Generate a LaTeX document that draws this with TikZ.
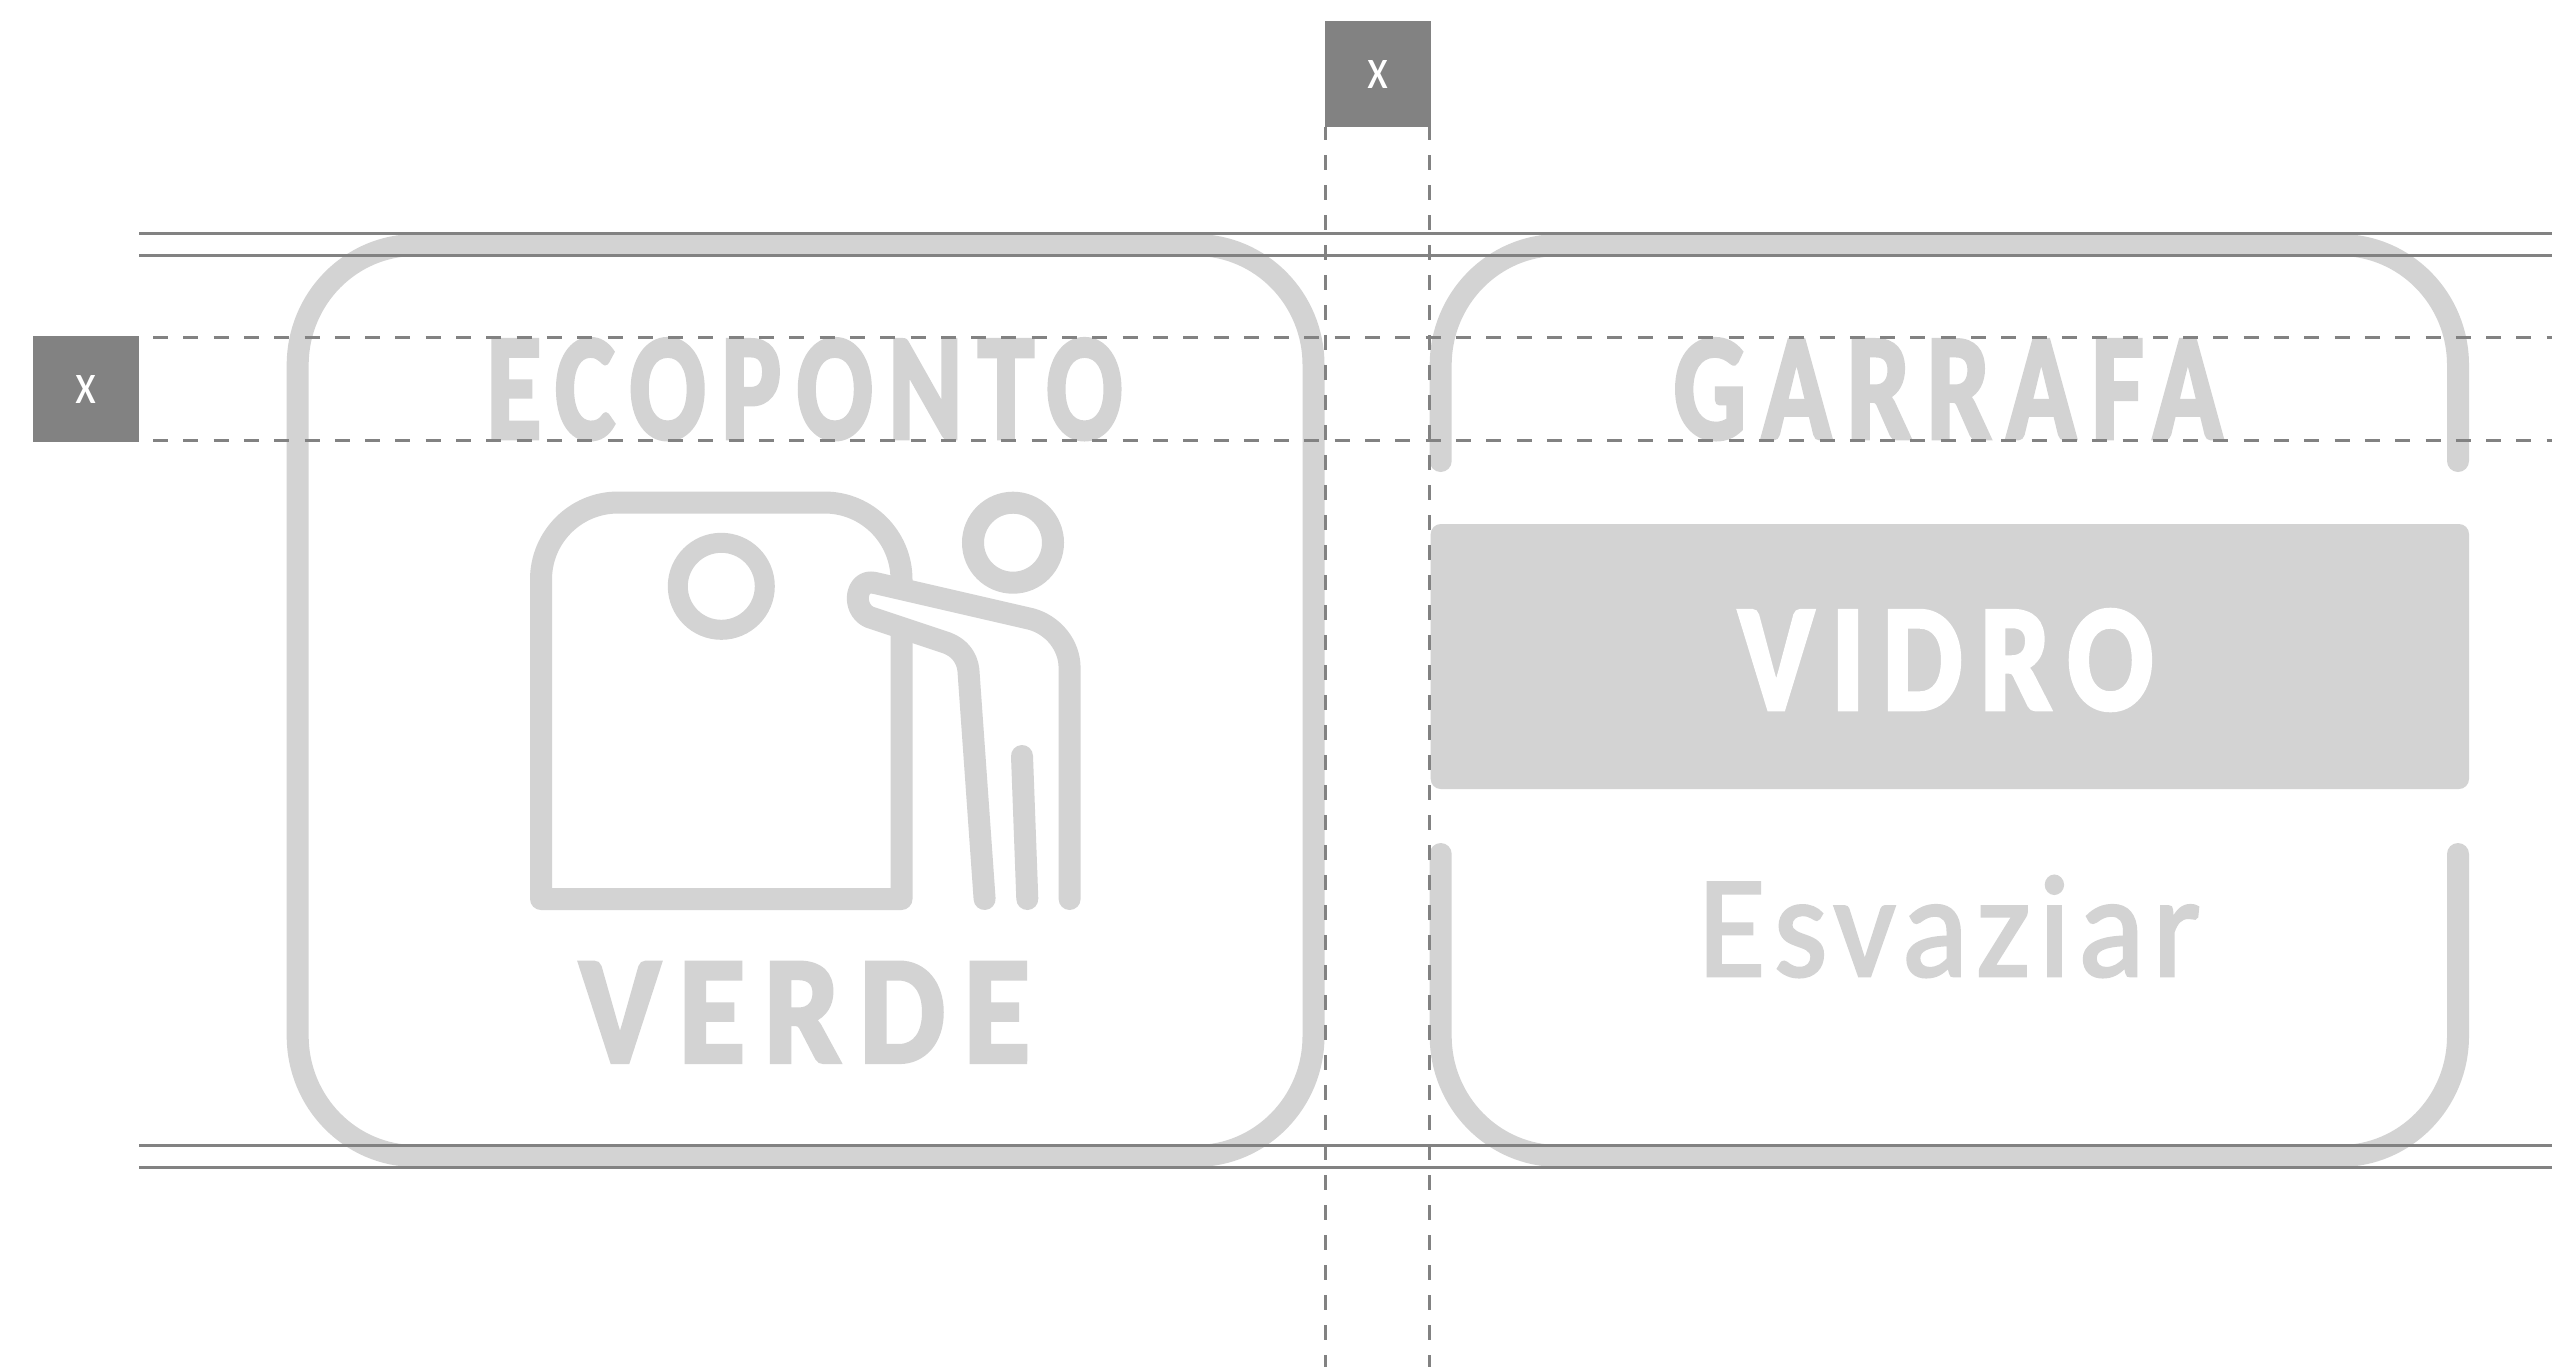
\documentclass[tikz,border=0pt]{standalone}
\usepackage{fontspec}
\usepackage{tikz}
\usetikzlibrary{positioning}
\setmainfont{Carlito}
\definecolor{signgray}{HTML}{D3D3D3}
\definecolor{guidegray}{HTML}{828282}
\newcommand{\fittext}[3]{\resizebox{#1pt}{#2pt}{#3}}
\tikzset{
    signline/.style={draw=signgray, line width=22pt, line join=round},
    iconring/.style={draw=signgray, line width=20pt},
    guideline/.style={draw=guidegray, line width=3pt},
    guidedash/.style={guideline, dash pattern=on 15pt off 15.3pt},
    measurebox/.style={fill=guidegray, minimum size=106pt, inner sep=0pt, text=white},
    signtext/.style={text=signgray, inner sep=0pt, font=\bfseries\addfontfeature{LetterSpace=14,FakeBold=3}}
}
\begin{document}
\begin{tikzpicture}[x=1pt, y=-1pt]
    \useasboundingbox (0, 0) rectangle (2552, 1369);
    % left sign
    \draw[signline] (297.7, 365) arc[start angle=180, end angle=270, x radius=118, y radius=120] -- (1195.5, 245) arc[start angle=270, end angle=360, x radius=118, y radius=120] -- (1313.5, 1036) arc[start angle=0, end angle=90, x radius=118, y radius=120] -- (415.7, 1156) arc[start angle=90, end angle=180, x radius=118, y radius=120] -- cycle;
    \node[signtext] (ecoponto) at (804.5, 389.2) {\fittext{636}{99}{ECOPONTO}};
    \node[signtext] (verde) at (805, 1012.3) {\fittext{450}{99}{VERDE}};
    % bin of the icon
    \draw[signline] (901.5, 586) -- (901.5, 579.5) arc[start angle=0, end angle=-90, x radius=77, y radius=77] -- (618, 502.5) arc[start angle=270, end angle=180, x radius=77, y radius=77] -- (541, 899) -- (901.5, 899) -- (901.5, 634);
    \node[circle, iconring, minimum size=87pt, inner sep=0pt] (binring) at (721.3, 586.3) {};
    % person of the icon
    \node[circle, iconring, line width=22pt, minimum size=80pt, inner sep=0pt] (head) at (1013, 542.7) {};
    \draw[signline, line cap=round] (1069.6, 899) -- (1069.6, 668) .. controls (1069.6, 645) and (1053, 625) .. (1031, 619) -- (875, 583) .. controls (856, 578) and (851, 608) .. (869, 617) -- (947, 643) .. controls (960, 648) and (967, 658) .. (968.4, 670) -- (984.6, 899);
    \draw[signline, line cap=round] (1022, 756) -- (1027.3, 899);
    % right sign
    \draw[signline, line cap=round] (1440.7, 461) -- (1440.7, 365) arc[start angle=180, end angle=270, x radius=118, y radius=120] -- (2340, 245) arc[start angle=270, end angle=360, x radius=118, y radius=120] -- (2458, 461);
    \draw[signline, line cap=round] (1440.7, 854) -- (1440.7, 1036) arc[start angle=180, end angle=90, x radius=118, y radius=120] -- (2340, 1156) arc[start angle=90, end angle=0, x radius=118, y radius=120] -- (2458, 854);
    \fill[signgray, rounded corners=10pt] (1430.7, 524) rectangle (2469, 789);
    \node[signtext] (garrafa) at (1948, 389.2) {\fittext{548}{99}{GARRAFA}};
    \node[signtext, text=white] (vidro) at (1946, 660) {\fittext{414}{99}{VIDRO}};
    \node[text=signgray, inner sep=0pt, font=\addfontfeature{LetterSpace=6,FakeBold=2}] (esvaziar) at (1949.5, 926.5) {\fittext{502}{100}{Esvaziar}};
    % measure boxes
    \node[measurebox] (boxleft) at (86, 389) {\raisebox{-3pt}{\fittext{21}{28}{x}}};
    \node[measurebox] (boxtop) at (1377.5, 74) {\raisebox{-2pt}{\fittext{21}{28}{x}}};
    \coordinate (topa) at (139, 233.3);
    \coordinate (topb) at (139, 255.3);
    \coordinate (bota) at (139, 1145);
    \coordinate (botb) at (139, 1167);
    \draw[guideline] (topa) -- (topa -| 2552, 0);
    \draw[guideline] (topb) -- (topb -| 2552, 0);
    \draw[guideline] (bota) -- (bota -| 2552, 0);
    \draw[guideline] (botb) -- (botb -| 2552, 0);
    \coordinate (dasha) at (153, 337);
    \coordinate (dashb) at (153, 440.7);
    \coordinate (dashc) at (1325.3, 127);
    \coordinate (dashd) at (1429.3, 127);
    \draw[guidedash] (dasha) -- (dasha -| 2552, 0);
    \draw[guidedash] (dashb) -- (dashb -| 2552, 0);
    \draw[guidedash, dash pattern=on 15pt off 15pt, dash phase=2pt] (dashc) -- (dashc |- 0, 1367);
    \draw[guidedash, dash pattern=on 15pt off 15pt, dash phase=2pt] (dashd) -- (dashd |- 0, 1367);
\end{tikzpicture}
\end{document}
